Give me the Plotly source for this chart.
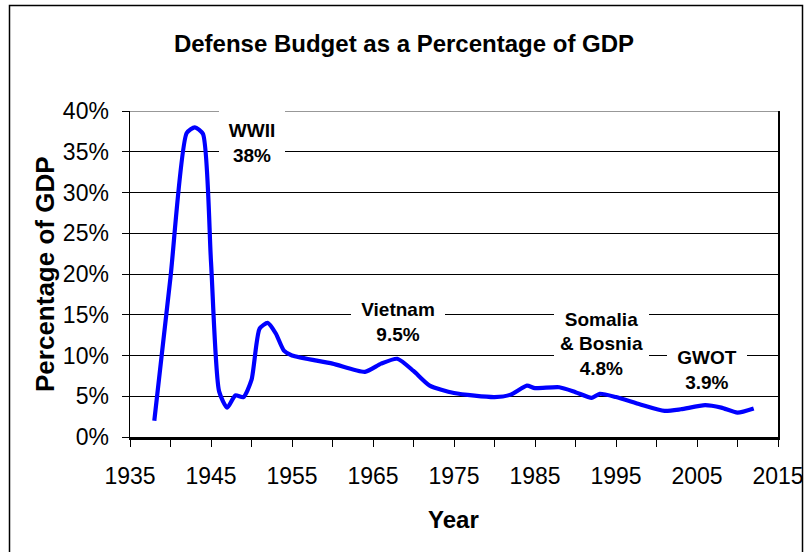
import plotly.graph_objects as go

# ---- data ----
years = [1938, 1940, 1942, 1943, 1944, 1945, 1946, 1947, 1948, 1949, 1950,
         1951, 1952, 1953, 1954, 1955, 1960, 1964, 1966, 1968, 1970, 1972,
         1975, 1980, 1982, 1984, 1985, 1988, 1990, 1992, 1993, 1995, 1998,
         2001, 2003, 2006, 2008, 2010, 2012]
pct_gdp = [2.0, 19.6, 37.3, 38.0, 37.2, 21.5, 5.6, 3.6, 5.1, 4.9, 7.0,
           13.3, 14.0, 12.7, 10.6, 10.0, 9.0, 8.0, 9.0, 9.6, 8.1, 6.3,
           5.4, 4.9, 5.2, 6.3, 6.0, 6.1, 5.5, 4.8, 5.3, 4.9, 4.0,
           3.2, 3.4, 3.9, 3.6, 3.0, 3.5]

event_labels = ["WWII<br>38%", "Vietnam<br>9.5%", "Somalia<br>& Bosnia<br>4.8%", "GWOT<br>3.9%"]
event_x = [1950.1, 1968.1, 1993.2, 2006.2]
event_y = [36.1, 14.05, 11.47, 8.28]
event_w = [66, 94, 95, 80]
event_h = [64, 50, 76, 50]

x_tick_vals = [1935, 1945, 1955, 1965, 1975, 1985, 1995, 2005, 2015]
y_tick_vals = [0, 5, 10, 15, 20, 25, 30, 35, 40]
y_tick_text = [f"{v}%" for v in y_tick_vals]
y_top = 40

FONT = "Liberation Sans, Arial, sans-serif"

fig = go.Figure()
fig.add_trace(go.Scatter(
    x=years, y=pct_gdp, mode="lines",
    line=dict(color="#0000FF", width=4.2, shape="spline", smoothing=0.6),
    hoverinfo="skip", showlegend=False,
))

# top gridline (at the edge of the range)
fig.add_shape(type="line", xref="paper", yref="y", x0=0, x1=1, y0=y_top, y1=y_top,
              line=dict(color="#333333", width=1.2), layer="below")

for t, x, y, w, h in zip(event_labels, event_x, event_y, event_w, event_h):
    fig.add_annotation(
        x=x, y=y, xref="x", yref="y", text=t, showarrow=False,
        xanchor="center", yanchor="middle",
        font=dict(family=FONT, size=19, color="black", weight="bold"),
        bgcolor="white", borderpad=0, borderwidth=0, width=w, height=h,
        align="center", valign="middle",
    )

# axis titles
fig.add_annotation(
    x=(453 - 130) / 648, y=(437 - 519) / 326, xref="paper", yref="paper",
    xanchor="center", yanchor="middle",
    text="Year", showarrow=False,
    font=dict(family=FONT, size=24, color="black", weight="bold"),
)
fig.add_annotation(
    x=(45 - 130) / 648, y=(437 - 274) / 326, xref="paper", yref="paper",
    xanchor="center", yanchor="middle",
    text="Percentage of GDP", showarrow=False, textangle=-90,
    font=dict(family=FONT, size=26, color="black", weight="bold"),
)

# outer frame
fig.add_shape(
    type="rect", xref="paper", yref="paper",
    x0=(9.5 - 130) / 648, x1=(802.5 - 130) / 648,
    y0=(437 - 600) / 326, y1=(437 - 5.5) / 326,
    line=dict(color="black", width=1.5), fillcolor="rgba(0,0,0,0)", layer="below",
)

fig.update_layout(
    width=807, height=552,
    margin=dict(l=130, r=29, t=111, b=115, autoexpand=False),
    paper_bgcolor="white", plot_bgcolor="white",
    title=dict(
        text="<b>Defense Budget as a Percentage of GDP</b>",
        x=404 / 807, xref="container", xanchor="center",
        y=1 - 44 / 552, yref="container", yanchor="middle",
        font=dict(family=FONT, size=24, color="black"),
    ),
    font=dict(family=FONT, color="black"),
)

fig.update_xaxes(
    range=[1935, 2015], tickmode="array", tickvals=x_tick_vals,
    ticks="outside", ticklen=7, tickwidth=1, tickcolor="black",
    minor=dict(dtick=5, tick0=1935, ticks="outside", ticklen=7, tickwidth=1,
               tickcolor="black", showgrid=False),
    showgrid=False, zeroline=False, automargin=False,
    showline=True, linecolor="black", linewidth=2.5,
    tickfont=dict(family=FONT, size=23, color="black"),
    ticklabelstandoff=10,
)
fig.update_yaxes(
    range=[0, y_top], tickmode="array", tickvals=y_tick_vals, ticktext=y_tick_text,
    ticks="outside", ticklen=7, tickwidth=1, tickcolor="black",
    showgrid=True, gridcolor="black", gridwidth=1, zeroline=False, automargin=False,
    showline=True, linecolor="black", linewidth=1.5, mirror=True,
    tickfont=dict(family=FONT, size=23, color="black"),
    ticklabelstandoff=8,
)

fig.write_html(
    "out.html",
    config={"displayModeBar": False, "staticPlot": True},
    post_script="document.body.style.margin='0px';document.body.style.overflow='hidden';",
)
